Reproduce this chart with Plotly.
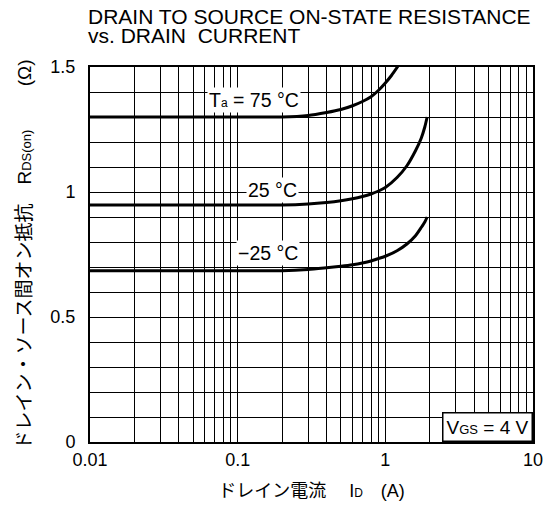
import plotly.graph_objects as go
import math

# ---- data ----
current_75 = [0.01, 0.1, 0.2, 0.3, 0.4, 0.5, 0.6, 0.7, 0.8, 0.9, 1.0, 1.1, 1.2, 1.3]
rds_75 = [1.30, 1.30, 1.300, 1.306, 1.318, 1.330, 1.345, 1.362, 1.381, 1.407, 1.436, 1.466, 1.498, 1.53]

current_25 = [0.01, 0.1, 0.2, 0.3, 0.4, 0.5, 0.6, 0.7, 0.8, 0.9, 1.0, 1.2, 1.4, 1.6, 1.75, 1.85, 1.92]
rds_25 = [0.948, 0.948, 0.948, 0.952, 0.958, 0.965, 0.973, 0.982, 0.992, 1.004, 1.018, 1.058,
          1.105, 1.165, 1.215, 1.26, 1.30]

current_m25 = [0.01, 0.1, 0.2, 0.3, 0.4, 0.5, 0.6, 0.7, 0.8, 0.9, 1.0, 1.2, 1.4, 1.6, 1.75, 1.85, 1.92]
rds_m25 = [0.685, 0.685, 0.685, 0.690, 0.697, 0.703, 0.709, 0.716, 0.724, 0.734, 0.743, 0.765,
           0.792, 0.825, 0.858, 0.880, 0.90]

x_tickvals = [0.01, 0.1, 1, 10]
x_ticktext = ["0.01", "0.1", "1", "10"]
y_tickvals = [0, 0.5, 1, 1.5]
y_ticktext = ["0", "0.5", "1", "1.5"]

FONT = "Liberation Sans, Arial, Noto Sans CJK JP, sans-serif"


def small(s, px=12):
    return f"<span style='font-size:{px}px'>{s}</span>"


x_minor = [d * 10 ** k for k in (-2, -1, 0) for d in range(2, 10)]

fig = go.Figure()
for xs, ys in [(current_75, rds_75), (current_25, rds_25), (current_m25, rds_m25)]:
    fig.add_trace(go.Scatter(x=xs, y=ys, mode="lines",
                             line=dict(color="black", width=3, shape="spline", smoothing=0.6),
                             showlegend=False, hoverinfo="skip"))

# page body has an 8px margin -> compensate
fig.update_layout(
    width=547, height=502,
    margin=dict(l=82, r=21, t=59, b=65),
    paper_bgcolor="white", plot_bgcolor="white",
    font=dict(family=FONT, size=18, color="black"),
    showlegend=False,
)

fig.update_xaxes(
    type="log", range=[-2, 1],
    tickvals=x_tickvals, ticktext=x_ticktext,
    showgrid=True, gridcolor="black", gridwidth=1,
    ticks="", showline=True, linecolor="black", linewidth=2, mirror=True,
    minor=dict(tickvals=x_minor, showgrid=True, gridcolor="black", gridwidth=1, ticks=""),
    tickfont=dict(size=18), ticklabelstandoff=0,
    title=dict(text="ドレイン電流　 I" + small("D", 12) + "　(A)", font=dict(size=18), standoff=16),
    zeroline=False,
)
fig.update_yaxes(
    range=[0, 1.5],
    tickvals=y_tickvals, ticktext=y_ticktext,
    showgrid=True, gridcolor="black", gridwidth=1,
    ticks="", showline=True, linecolor="black", linewidth=2, mirror=True,
    minor=dict(dtick=0.1, showgrid=True, gridcolor="black", gridwidth=1, ticks=""),
    tickfont=dict(size=18), ticklabelstandoff=9,
    title=dict(text="ドレイン・ソース間オン抵抗　R" + small("DS(on)", 13) + "　　 (Ω)",
               font=dict(size=19), standoff=14),
    zeroline=False,
)

# title lines
fig.add_annotation(text="DRAIN TO SOURCE ON-STATE RESISTANCE", xref="paper", yref="paper",
                   x=-0.008, y=1.0, xanchor="left", yanchor="middle", yshift=51,
                   showarrow=False, font=dict(size=21))
fig.add_annotation(text="vs. DRAIN  CURRENT", xref="paper", yref="paper",
                   x=-0.008, y=1.0, xanchor="left", yanchor="middle", yshift=32,
                   showarrow=False, font=dict(size=21))

# curve labels
labels = [("T" + small("a", 12) + " = 75 °C", 0.13, 1.368),
          ("25 °C", 0.172, 1.008),
          ("−25 °C", 0.16, 0.756)]
for txt, xv, yv in labels:
    fig.add_annotation(text=txt, x=math.log10(xv), y=yv, xref="x", yref="y",
                       showarrow=False, bgcolor="white", borderpad=1,
                       font=dict(size=19.5))

fig.add_annotation(text="V" + small("GS", 13) + " = 4 V", xref="paper", yref="paper",
                   x=1, y=0, xanchor="right", yanchor="bottom", showarrow=False,
                   bgcolor="white", bordercolor="black", borderwidth=1.5, borderpad=3,
                   font=dict(size=19))

fig.write_html("out.html")
